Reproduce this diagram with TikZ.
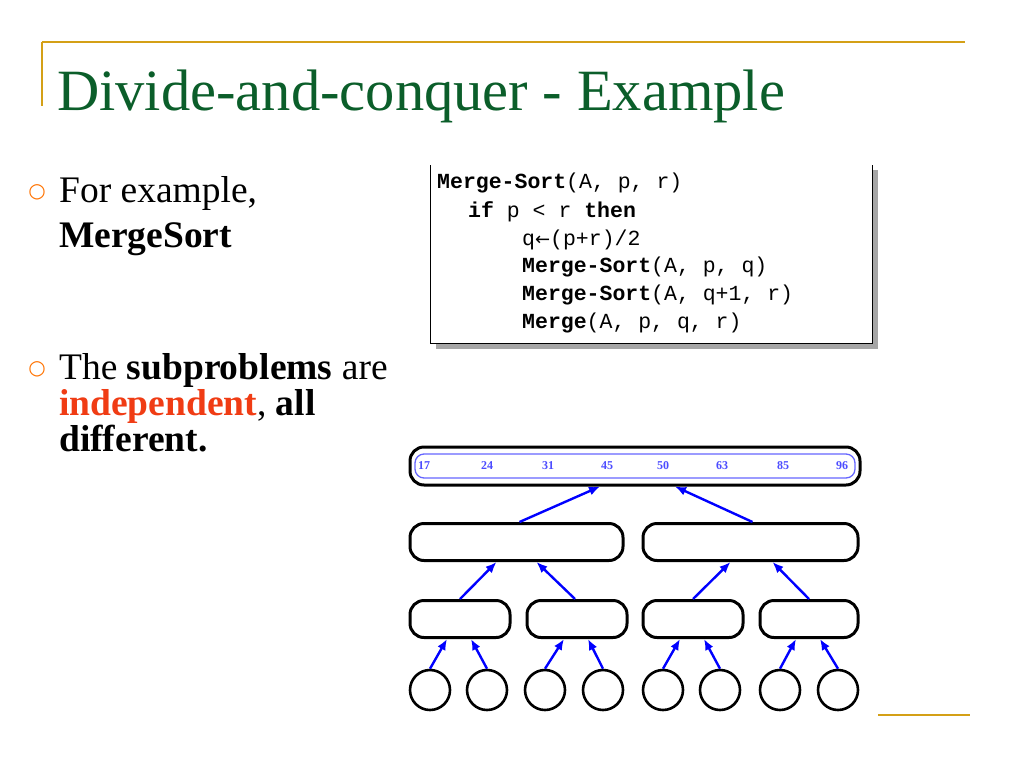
\documentclass[tikz,border=0pt]{standalone}
\usepackage{fontspec}
\setmainfont{Liberation Serif}
\newfontfamily\codefont{Liberation Mono}
\newfontfamily\symfont{DejaVu Sans}
\usetikzlibrary{arrows.meta}
\definecolor{gold}{HTML}{D4A017}
\definecolor{ttl}{HTML}{0B5E2A}
\definecolor{redtxt}{HTML}{F03C14}
\begin{document}
\begin{tikzpicture}[x=1pt,y=-1pt,
  bx/.style={draw=black,line width=3pt,rounded corners=14pt,inner sep=0pt},
  leaf/.style={draw=black,line width=2.6pt,circle,minimum size=40pt,inner sep=0pt},
  ar/.style={blue,line width=2.4pt,-{Latex[length=11pt,width=9pt]}},
  bul/.style={anchor=base west,font=\fontsize{37.5}{40}\selectfont,align=left,inner sep=0pt},
  code/.style={anchor=base west,font=\codefont\fontsize{21.5}{22}\selectfont,inner sep=0pt},
  num/.style={blue!70,font=\fontsize{12}{12}\selectfont\bfseries}]
\useasboundingbox (0,0) rectangle (1024,768);
\fill[white] (0,0) rectangle (1024,768);
% frame lines
\draw[gold,line width=1.2pt] (42,42) -- (965,42);
\draw[gold,line width=1.2pt] (42,42) -- (42,106);
\draw[gold,line width=1.2pt] (878,715) -- (970,715);
% title
\node[anchor=base west,inner sep=0pt,text=ttl,font=\fontsize{58.5}{60}\selectfont] (title) at (57,110) {Divide-and-conquer - Example};
% bullets
\node[text=orange!90!red,font=\symfont\fontsize{20}{20}\selectfont,inner sep=0pt] (b1) at (37,192) {○};
\node[bul] (t1) at (59,202) {For example,};
\node[bul] (t2) at (59,247) {\textbf{MergeSort}};
\node[text=orange!90!red,font=\symfont\fontsize{20}{20}\selectfont,inner sep=0pt] (b2) at (37,369) {○};
\node[bul] (t3) at (59,379) {The \textbf{subproblems} are};
\node[bul] (t4) at (59,415) {\textbf{\textcolor{redtxt}{independent}}, \textbf{all}};
\node[bul] (t5) at (59,451) {\textbf{different.}};
% code box
\fill[gray!70] (436,170) rectangle (878,349);
\fill[white] (430,165) rectangle (872,343);
\draw[black,line width=1pt] (430,165) -- (430,343) -- (872,343) -- (872,165);
\node[code] (c1) at (437,188) {\textbf{Merge-Sort}(A, p, r)};
\node[code] (c2) at (468,217) {\textbf{if} p < r \textbf{then}};
\node[code] (c3) at (522,245) {q{\symfont\fontsize{18}{18}\selectfont←}(p+r)/2};
\node[code] (c4) at (522,272) {\textbf{Merge-Sort}(A, p, q)};
\node[code] (c5) at (522,300) {\textbf{Merge-Sort}(A, q+1, r)};
\node[code] (c6) at (522,328) {\textbf{Merge}(A, p, q, r)};
% tree
\node[bx,minimum width=450pt,minimum height=38pt] (top) at (635,466) {};
\draw[blue!60,line width=1.3pt,rounded corners=9pt] (415,454) rectangle (855,478);
\foreach \v/\x in {17/424,24/487,31/548,45/607,50/663,63/722,85/783,96/842}
  \node[num] (n\v) at (\x,466) {\v};
\node[bx,minimum width=213pt,minimum height=37pt] (m1) at (516.5,542) {};
\node[bx,minimum width=215pt,minimum height=37pt] (m2) at (750.5,542) {};
\node[bx,minimum width=100pt,minimum height=37pt] (q1) at (460,619) {};
\node[bx,minimum width=100pt,minimum height=37pt] (q2) at (577,619) {};
\node[bx,minimum width=100pt,minimum height=37pt] (q3) at (693,619) {};
\node[bx,minimum width=98pt,minimum height=37pt] (q4) at (809,619) {};
\foreach \i/\x in {1/430,2/487,3/545,4/603,5/663,6/720,7/780,8/838}
  \node[leaf] (l\i) at (\x,690) {};
% arrows
\draw[ar] ([xshift=3pt]m1.north) -- ([xshift=-35pt]top.south);
\draw[ar] ([xshift=2pt]m2.north) -- ([xshift=40pt]top.south);
\draw[ar] ([xshift=0pt]q1.north) -- ([xshift=-20pt]m1.south);
\draw[ar] ([xshift=-2pt]q2.north) -- ([xshift=20pt]m1.south);
\draw[ar] ([xshift=0pt]q3.north) -- ([xshift=-20pt]m2.south);
\draw[ar] ([xshift=0pt]q4.north) -- ([xshift=22pt]m2.south);
\foreach \i/\j/\s in {1/1/-13,2/1/11,3/2/-13,4/2/11,5/3/-13,6/3/11,7/4/-13,8/4/11}
  \draw[ar] (l\i.north) -- ([xshift=\s pt]q\j.south);
\end{tikzpicture}
\end{document}
